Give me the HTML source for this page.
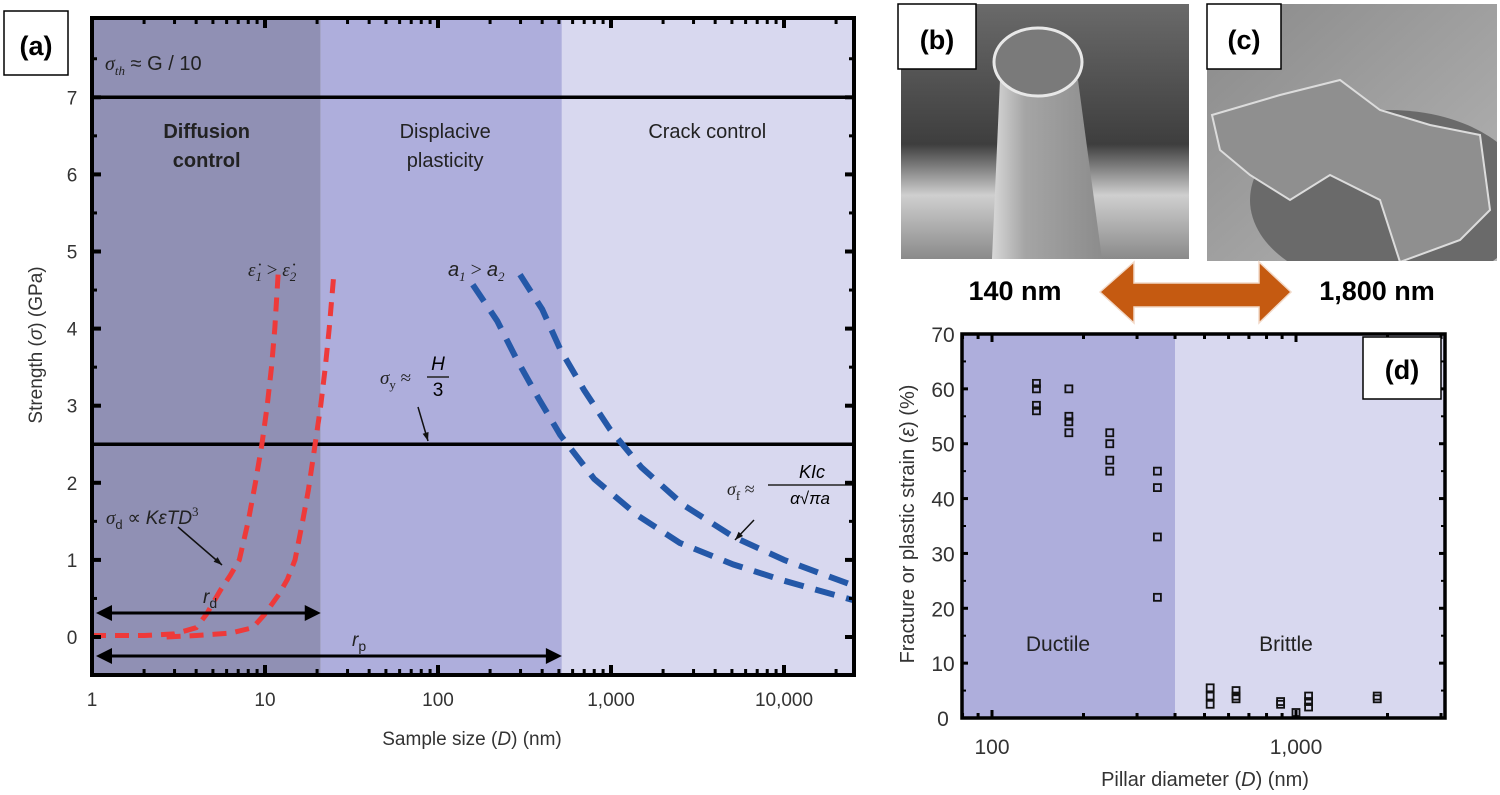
<!DOCTYPE html>
<html><head><meta charset="utf-8"><style>
html,body{margin:0;padding:0;background:#fff;width:1500px;height:795px;overflow:hidden}
svg{display:block;font-family:"Liberation Sans",sans-serif}
</style></head><body>
<svg id="fig" width="1500" height="795" viewBox="0 0 1500 795">
<defs>
<linearGradient id="bgB" x1="0" y1="0" x2="0" y2="1">
<stop offset="0" stop-color="#6a6a6a"/><stop offset="0.55" stop-color="#3e3e3e"/><stop offset="0.75" stop-color="#cfcfcf"/><stop offset="1" stop-color="#8a8a8a"/></linearGradient>
<linearGradient id="pil" x1="0" y1="0" x2="1" y2="0">
<stop offset="0" stop-color="#d8d8d8"/><stop offset="0.3" stop-color="#a5a5a5"/><stop offset="1" stop-color="#8c8c8c"/></linearGradient>
<linearGradient id="bgC" x1="0" y1="0" x2="1" y2="1">
<stop offset="0" stop-color="#8a8a8a"/><stop offset="1" stop-color="#b5b5b5"/></linearGradient>
<clipPath id="clipC"><rect x="1207" y="4" width="290" height="257"/></clipPath>
<clipPath id="clipB"><rect x="901" y="4" width="288" height="255"/></clipPath>
</defs>
<g id="panelA"></g>
<g id="photos">
  <g clip-path="url(#clipB)">
  <rect x="901" y="4" width="288" height="255" fill="url(#bgB)"/>
  <path d="M1000 80 L992 259 L1102 259 L1078 80 Z" fill="url(#pil)"/>
  <ellipse cx="1038" cy="62" rx="44" ry="34" fill="#7a7a7a" stroke="#e8e8e8" stroke-width="3"/>
  </g>
  <g clip-path="url(#clipC)">
  <rect x="1207" y="4" width="290" height="257" fill="url(#bgC)"/>
  <ellipse cx="1390" cy="200" rx="140" ry="90" fill="#6a6a6a"/>
  <path d="M1212 115 L1280 95 L1340 80 L1380 110 L1430 125 L1480 135 L1490 210 L1460 240 L1400 262 L1380 200 L1330 175 L1290 200 L1250 175 L1220 150 Z" fill="#8f8f8f" stroke="#dcdcdc" stroke-width="2"/>
  </g>
  <rect x="898" y="4" width="78" height="65" fill="#fff" stroke="#000" stroke-width="1.5"/>
  <text x="937" y="49" font-size="27" font-weight="bold" text-anchor="middle">(b)</text>
  <rect x="1207" y="4" width="74" height="65" fill="#fff" stroke="#000" stroke-width="1.5"/>
  <text x="1244" y="49" font-size="27" font-weight="bold" text-anchor="middle">(c)</text>
  <path d="M1100 292 L1134 262 L1134 283 L1259 283 L1259 262 L1291 292 L1259 323 L1259 307 L1134 307 L1134 323 Z" fill="#c55a11" stroke="#f2d9c8" stroke-width="1.5"/>
  <text x="1015" y="300" font-size="27" font-weight="bold" text-anchor="middle">140 nm</text>
  <text x="1377" y="300" font-size="27" font-weight="bold" text-anchor="middle">1,800 nm</text>
</g>
<g id="panelD"></g>
</svg>
<script>
// ---------- Panel (a) data ----------
const aXTicks = [1, 10, 100, 1000, 10000];
const aXTickLabels = ["1", "10", "100", "1,000", "10,000"];
const aYTicks = [0, 1, 2, 3, 4, 5, 6, 7];
const aRegionBounds = [1, 21, 520, 25000];
const aRegionNames = ["Diffusion control", "Displacive plasticity", "Crack control"];
const aHLines = [7, 2.5];
const red1D = [1, 2, 3, 4, 4.6, 5.5, 6.3, 7.1, 8.0, 8.8, 9.6, 10.3, 10.9, 11.4, 11.9];
const red1S = [0.02, 0.02, 0.04, 0.12, 0.3, 0.6, 0.8, 1.0, 1.5, 2.0, 2.5, 3.0, 3.5, 4.0, 4.7];
const red2D = [2.7, 4, 6.3, 8.5, 10, 12, 13.5, 14.9, 16.5, 17.8, 19.2, 21, 22.3, 23.5, 25];
const red2S = [0.0, 0.02, 0.05, 0.12, 0.3, 0.55, 0.75, 1.0, 1.5, 1.9, 2.4, 3.0, 3.5, 4.0, 4.7];
const blue1D = [159, 220, 285, 380, 509, 800, 1420, 2500, 5100, 10000, 25000];
const blue1S = [4.57, 4.1, 3.6, 3.1, 2.62, 2.05, 1.58, 1.22, 0.94, 0.73, 0.48];
const blue2D = [298, 400, 509, 700, 990, 1500, 2630, 5100, 10000, 25000];
const blue2S = [4.7, 4.25, 3.73, 3.2, 2.69, 2.2, 1.71, 1.3, 1.0, 0.67];

// ---------- Panel (d) data ----------
const dXTicks = [100, 1000];
const dXTickLabels = ["100", "1,000"];
const dYTicks = [0, 10, 20, 30, 40, 50, 60, 70];
const dBoundary = 400;
const dPointD = [140,140,140,140, 179,179,179,179, 244,244,244,244, 350,350,350,350, 522,522,522, 635,635,635, 890,890, 1100,1100,1100, 1850,1850, 1000];
const dPointE = [61,60,57,56, 60,55,54,52, 52,50,47,45, 45,42,33,22, 5.5,4,2.5, 5,4,3.5, 3,2.5, 4,3,2, 4,3.5, 1];

const NS = "http://www.w3.org/2000/svg";
function el(tag, attrs, parent, txt) {
  const e = document.createElementNS(NS, tag);
  for (const k in attrs) e.setAttribute(k, attrs[k]);
  if (txt !== undefined) e.textContent = txt;
  parent.appendChild(e);
  return e;
}

// ===== Panel A =====
(function () {
  const g = document.getElementById('panelA');
  const L = 92, R = 854, T = 18, B = 675;
  const dec = 173;
  const X = d => L + Math.log10(d) * dec;
  const Y = s => 637 - s * 77.1;
  const cols = ["#9090b4", "#aeaedc", "#d8d8ef"];
  for (let i = 0; i < 3; i++) {
    const r = el('rect', { x: X(aRegionBounds[i]), y: T, width: X(aRegionBounds[i + 1]) - X(aRegionBounds[i]), height: B - T, fill: cols[i] }, g);
    
    
  }
  const lbl = [[X(4.6), ["Diffusion", "control"]], [X(110), ["Displacive", "plasticity"]], [X(3600), ["Crack control"]]];
  lbl.forEach((p, i) => {
    p[1].forEach((t, j) => {
      const tx = el('text', { x: p[0], y: 138 + j * 29, 'font-size': 20, fill: '#222', 'text-anchor': 'middle', 'font-weight': i === 0 ? 'bold' : 'normal' }, g, t);
      
      
    });
  });
  aHLines.forEach(v => {
    const l = el('line', { x1: L, x2: R, y1: Y(v), y2: Y(v), stroke: '#000', 'stroke-width': 3.5 }, g);
    
    
  });
  function curve(ds, ss, color, w, dash, name) {
    const pts = ds.map((d, i) => X(d).toFixed(1) + ',' + Y(ss[i]).toFixed(1)).join(' ');
    const p = el('polyline', { points: pts, fill: 'none', stroke: color, 'stroke-width': w, 'stroke-dasharray': dash }, g);
    
    
  }
  curve(red1D, red1S, '#ee3a3a', 5, '14 9', 'red-curve-eps1');
  curve(red2D, red2S, '#ee3a3a', 5, '14 9', 'red-curve-eps2');
  curve(blue1D, blue1S, '#2458a8', 6, '20 12', 'blue-curve-a1');
  curve(blue2D, blue2S, '#2458a8', 6, '20 12', 'blue-curve-a2');
  function harrow(x1, x2, y, name) {
    const a = el('g', {}, g);
    
    
    el('line', { x1: x1 + 12, x2: x2 - 12, y1: y, y2: y, stroke: '#000', 'stroke-width': 3 }, a);
    el('path', { d: `M${x1} ${y} L${x1 + 16} ${y - 8} L${x1 + 16} ${y + 8} Z`, fill: '#000' }, a);
    el('path', { d: `M${x2} ${y} L${x2 - 16} ${y - 8} L${x2 - 16} ${y + 8} Z`, fill: '#000' }, a);
  }
  harrow(L + 4, X(21), 613, 'rd-arrow');
  harrow(L + 4, X(520), 656, 'rp-arrow');
  const tt = [
    [203, 603, 'r', 'd', 'rd-label'], [352, 646, 'r', 'p', 'rp-label']
  ];
  tt.forEach(t => {
    const tx = el('text', { x: t[0], y: t[1], 'font-size': 19, 'font-style': 'italic', fill: '#222' }, g);
    
    
    el('tspan', {}, tx, t[2]);
    el('tspan', { 'font-size': 14, dy: 5, 'font-style': 'normal' }, tx, t[3]);
  });
  function ann(x, y, html, name, size) {
    const tx = el('text', { x: x, y: y, 'font-size': size || 19, fill: '#222', 'font-family': '"Liberation Serif",serif', 'font-style': 'italic' }, g);
    tx.innerHTML = html;
    
    
  }
  ann(105, 70, 'σ<tspan font-size="13" dy="5">th</tspan><tspan dy="-5" font-family="Liberation Sans" font-style="normal"> ≈ G / 10</tspan>', 'sigma-th-label', 20);
  ann(248, 276, 'ε̇<tspan font-size="13" dy="5">1</tspan><tspan dy="-5" font-style="normal"> &gt; </tspan>ε̇<tspan font-size="13" dy="5">2</tspan>', 'strain-rate-label');
  ann(448, 276, '<tspan font-family="Liberation Sans">a</tspan><tspan font-size="13" dy="5">1</tspan><tspan dy="-5" font-style="normal"> &gt; </tspan><tspan font-family="Liberation Sans">a</tspan><tspan font-size="13" dy="5">2</tspan>', 'crack-size-label', 20);
  ann(380, 384, 'σ<tspan font-size="13" dy="5" font-style="normal">y</tspan><tspan dy="-5" font-style="normal"> ≈ </tspan>', 'sigma-y-label');
  const fr = el('g', {}, g);
  
  
  el('text', { x: 438, y: 370, 'font-size': 19, 'font-style': 'italic', 'text-anchor': 'middle' }, fr, 'H');
  el('line', { x1: 427, x2: 449, y1: 377, y2: 377, stroke: '#222', 'stroke-width': 1.5 }, fr);
  el('text', { x: 438, y: 396, 'font-size': 19, 'text-anchor': 'middle' }, fr, '3');
  ann(106, 524, 'σ<tspan font-size="13" dy="5" font-style="normal" font-family="Liberation Sans">d</tspan><tspan dy="-5" font-style="normal"> ∝ </tspan><tspan font-family="Liberation Sans">KεTD</tspan><tspan font-size="13" dy="-8" font-style="normal">3</tspan>', 'sigma-d-label');
  ann(727, 495, 'σ<tspan font-size="13" dy="5" font-style="normal">f</tspan><tspan dy="-5" font-style="normal"> ≈ </tspan>', 'sigma-f-label', 18);
  const f2 = el('g', {}, g);
  
  
  el('text', { x: 812, y: 478, 'font-size': 18, 'font-style': 'italic', 'text-anchor': 'middle' }, f2, 'KIc');
  el('line', { x1: 768, x2: 855, y1: 485, y2: 485, stroke: '#222', 'stroke-width': 1.5 }, f2);
  el('text', { x: 810, y: 504, 'font-size': 17, 'font-style': 'italic', 'text-anchor': 'middle' }, f2, 'α√πa');
  function sarrow(x1, y1, x2, y2, name) {
    const a = el('g', {}, g);
    
    
    el('line', { x1, y1, x2, y2, stroke: '#111', 'stroke-width': 1.5 }, a);
    const ang = Math.atan2(y2 - y1, x2 - x1), s = 9;
    const p1 = [x2 - s * Math.cos(ang - 0.35), y2 - s * Math.sin(ang - 0.35)];
    const p2 = [x2 - s * Math.cos(ang + 0.35), y2 - s * Math.sin(ang + 0.35)];
    el('path', { d: `M${x2} ${y2} L${p1[0]} ${p1[1]} L${p2[0]} ${p2[1]} Z`, fill: '#111' }, a);
  }
  sarrow(418, 407, 428, 441, 'sigma-y-arrow');
  sarrow(178, 527, 222, 565, 'sigma-d-arrow');
  sarrow(754, 520, 735, 540, 'sigma-f-arrow');
  const fr2 = el('rect', { x: L, y: T, width: R - L, height: B - T, fill: 'none', stroke: '#000', 'stroke-width': 4 }, g);
  
  
  aYTicks.forEach(v => {
    const t = el('line', { x1: L, x2: L + 9, y1: Y(v), y2: Y(v), stroke: '#000', 'stroke-width': 4 }, g);
    
    
    el('line', { x1: R, x2: R - 9, y1: Y(v), y2: Y(v), stroke: '#000', 'stroke-width': 4 }, g);
    el('line', { x1: L, x2: L + 5, y1: Y(v + 0.5), y2: Y(v + 0.5), stroke: '#000', 'stroke-width': 3 }, g);
    el('line', { x1: R, x2: R - 5, y1: Y(v + 0.5), y2: Y(v + 0.5), stroke: '#000', 'stroke-width': 3 }, g);
    const tl = el('text', { x: 72, y: Y(v) + 7, 'font-size': 19, fill: '#333', 'text-anchor': 'middle' }, g, String(v));
    
    
  });
  for (let e = 0; e < 5; e++) {
    for (let m = 1; m <= 9; m++) {
      const d = m * Math.pow(10, e);
      const x = X(d);
      if (x > R) break;
      const len = m === 1 ? 10 : 6;
      el('line', { x1: x, x2: x, y1: B, y2: B - len, stroke: '#000', 'stroke-width': m === 1 ? 4 : 3 }, g);
      el('line', { x1: x, x2: x, y1: T, y2: T + len, stroke: '#000', 'stroke-width': m === 1 ? 4 : 3 }, g);
    }
  }
  aXTicks.forEach((v, i) => {
    const tl = el('text', { x: X(v), y: 706, 'font-size': 19, fill: '#333', 'text-anchor': 'middle' }, g, aXTickLabels[i]);
    
    
  });
  const xt = el('text', { x: 472, y: 745, 'font-size': 19, fill: '#333', 'text-anchor': 'middle' }, g);
  xt.innerHTML = 'Sample size (<tspan font-style="italic">D</tspan>) (nm)';
  
  
  const yt = el('text', { x: 0, y: 0, 'font-size': 19, fill: '#333', 'text-anchor': 'middle', transform: 'translate(42 345) rotate(-90)' }, g);
  yt.innerHTML = 'Strength (<tspan font-style="italic">σ</tspan>) (GPa)';
  
  
  const lb = el('rect', { x: 4, y: 11, width: 64, height: 64, fill: '#fff', stroke: '#000', 'stroke-width': 1.5 }, g);
  
  
  const la = el('text', { x: 36, y: 55, 'font-size': 27, 'font-weight': 'bold', 'text-anchor': 'middle' }, g, '(a)');
  
  
})();

// ===== Panel D =====
(function () {
  const g = document.getElementById('panelD');
  const L = 962, R = 1445, T = 334, B = 718;
  const dec = 304;
  const X = d => 992 + (Math.log10(d) - 2) * dec;
  const Y = v => B - v * (B - T) / 70;
  const r1 = el('rect', { x: L, y: T, width: X(dBoundary) - L, height: B - T, fill: '#aeaedc' }, g);
  
  
  const r2 = el('rect', { x: X(dBoundary), y: T, width: R - X(dBoundary), height: B - T, fill: '#d8d8ef' }, g);
  
  
  const t1 = el('text', { x: 1058, y: 651, 'font-size': 21, fill: '#222', 'text-anchor': 'middle' }, g, 'Ductile');
  
  
  const t2 = el('text', { x: 1286, y: 651, 'font-size': 21, fill: '#222', 'text-anchor': 'middle' }, g, 'Brittle');
  
  
  dPointD.forEach((d, i) => {
    const s = el('rect', { x: X(d) - 3.5, y: Y(dPointE[i]) - 3.5, width: 7, height: 7, fill: 'none', stroke: '#111', 'stroke-width': 1.8 }, g);
    
    
  });
  const fr = el('rect', { x: L, y: T, width: R - L, height: B - T, fill: 'none', stroke: '#000', 'stroke-width': 3.5 }, g);
  
  
  dYTicks.forEach(v => {
    el('line', { x1: L, x2: L + 6, y1: Y(v), y2: Y(v), stroke: '#000', 'stroke-width': 3 }, g);
    el('line', { x1: R, x2: R - 6, y1: Y(v), y2: Y(v), stroke: '#000', 'stroke-width': 3 }, g);
    if (v < 70) {
      el('line', { x1: L, x2: L + 4, y1: Y(v + 5), y2: Y(v + 5), stroke: '#000', 'stroke-width': 2 }, g);
      el('line', { x1: R, x2: R - 4, y1: Y(v + 5), y2: Y(v + 5), stroke: '#000', 'stroke-width': 2 }, g);
    }
    const tl = el('text', { x: 943, y: Y(v) + 8, 'font-size': 21, fill: '#333', 'text-anchor': 'middle' }, g, String(v));
    
    
  });
  for (let e = 1; e <= 3; e++) {
    for (let m = 1; m <= 9; m++) {
      const x = X(m * Math.pow(10, e));
      if (x < L || x > R) continue;
      const len = m === 1 ? 8 : 5;
      el('line', { x1: x, x2: x, y1: B, y2: B - len, stroke: '#000', 'stroke-width': 3 }, g);
      el('line', { x1: x, x2: x, y1: T, y2: T + len, stroke: '#000', 'stroke-width': 3 }, g);
    }
  }
  dXTicks.forEach((v, i) => {
    const tl = el('text', { x: X(v), y: 754, 'font-size': 21, fill: '#333', 'text-anchor': 'middle' }, g, dXTickLabels[i]);
    
    
  });
  const xt = el('text', { x: 1205, y: 786, 'font-size': 20, fill: '#333', 'text-anchor': 'middle' }, g);
  xt.innerHTML = 'Pillar diameter (<tspan font-style="italic">D</tspan>) (nm)';
  
  
  const yt = el('text', { x: 0, y: 0, 'font-size': 20, fill: '#333', 'text-anchor': 'middle', transform: 'translate(914 524) rotate(-90)' }, g);
  yt.innerHTML = 'Fracture or plastic strain (<tspan font-style="italic">ε</tspan>) (%)';
  
  
  const lb = el('rect', { x: 1363, y: 337, width: 78, height: 62, fill: '#fff', stroke: '#000', 'stroke-width': 1.5 }, g);
  
  
  const la = el('text', { x: 1402, y: 379, 'font-size': 27, 'font-weight': 'bold', 'text-anchor': 'middle' }, g, '(d)');
  
  
})();
</script>
</body></html>
